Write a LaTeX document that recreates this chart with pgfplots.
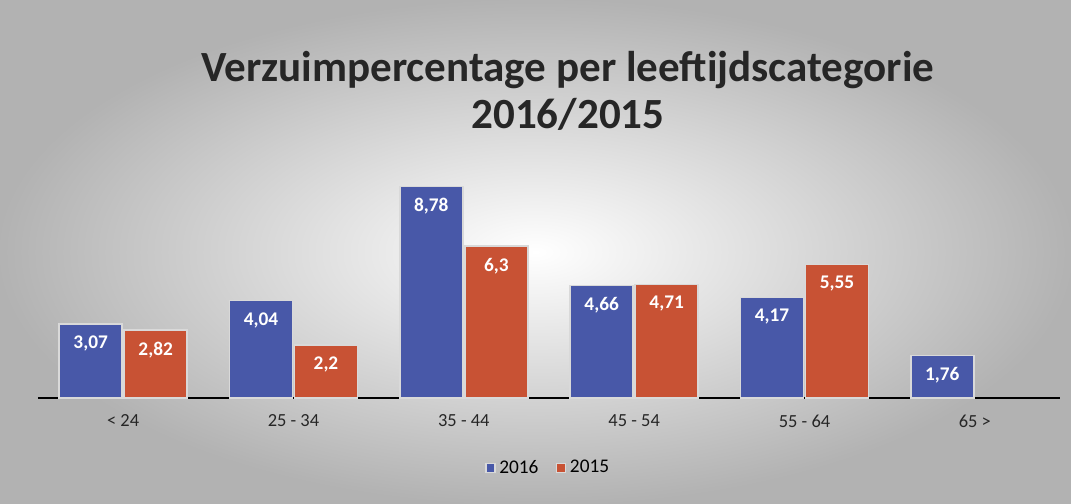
\documentclass[border=0pt]{standalone}
\usepackage{fontspec}
\setmainfont{Carlito}
\usepackage{pgfplots}
\pgfplotsset{compat=1.18}

\definecolor{bar16}{RGB}{72,88,168}
\definecolor{bar15}{RGB}{200,82,52}

\begin{document}
\begin{tikzpicture}
  % scanned page background (vignette), 1 px = 0.02cm
  \shade[inner color=white, outer color=black!30] (0cm,0cm) rectangle (21.42cm,10.08cm);
  \node[font=\bfseries\fontsize{24.5}{27}\selectfont, text=black!85, align=center]
    at (11.36cm,8.26cm) {Verzuimpercentage per leeftijdscategorie\\2016/2015};
  \begin{axis}[
      at={(0.76cm,2.12cm)}, anchor=south west,
      scale only axis,
      width=20.44cm, height=4.82cm,
      xmin=-0.5, xmax=5.5,
      ymin=0, ymax=10,
      axis y line=none,
      axis x line*=bottom,
      x axis line style={line width=1.6pt, -},
      xtick={0,1,2,3,4,5},
      xticklabels={< 24, 25 - 34, 35 - 44, 45 - 54, 55 - 64, 65 >},
      major tick length=0pt,
      xticklabel style={font=\fontsize{10.5}{12}\selectfont, text=black!85, yshift=-6pt},
      ybar=0.04cm,
      bar width=1.26cm,
      point meta=explicit symbolic,
      nodes near coords,
      nodes near coords align={below},
      every node near coord/.append style={font=\bfseries\fontsize{11}{13}\selectfont, text=white, yshift=-3pt},
      legend style={at={(0.5,-0.29)}, anchor=center, legend columns=2, draw=none, fill=none,
        font=\fontsize{11}{13}\selectfont, /tikz/every even column/.append style={column sep=8pt}},
      legend image code/.code={\fill[#1] (0cm,-0.09cm) rectangle (0.18cm,0.09cm);},
      clip=false,
    ]
    \addplot[fill=bar16, draw=white!85!black, line width=0.8pt] coordinates {
      (0,3.07) [3,07] (1,4.04) [4,04] (2,8.78) [8,78]
      (3,4.66) [4,66] (4,4.17) [4,17] (5,1.76) [1,76]};
    \addplot[fill=bar15, draw=white!85!black, line width=0.8pt] coordinates {
      (0,2.82) [2,82] (1,2.2) [2,2] (2,6.3) [6,3]
      (3,4.71) [4,71] (4,5.55) [5,55]};
    \legend{2016, 2015}
  \end{axis}
\end{tikzpicture}
\end{document}
